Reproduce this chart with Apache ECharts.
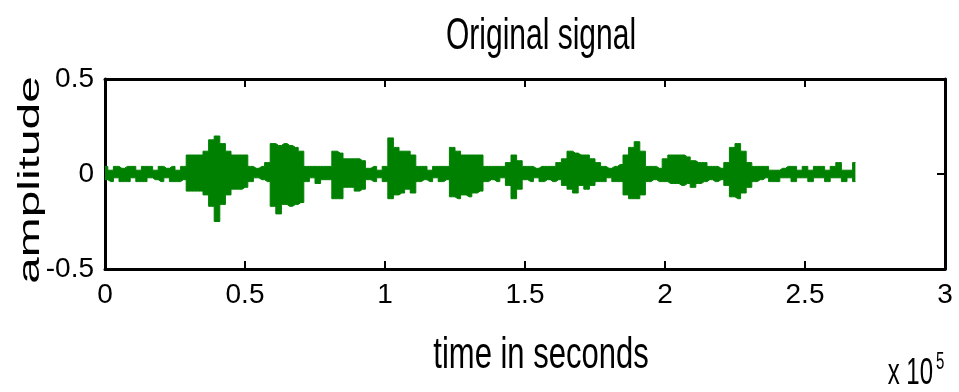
<!DOCTYPE html>
<html>
<head>
<meta charset="utf-8">
<script src="https://cdn.jsdelivr.net/npm/echarts@6/dist/echarts.min.js"></script>
<style>
  html, body { margin: 0; padding: 0; background: #fff; }
  #chart { width: 959px; height: 392px; }
</style>
</head>
<body>
<div id="chart"></div>
<script>
// time axis in units of 1e5 samples, one envelope reading every 0.02
const timeStep = 0.02
// upper envelope of the signal
const upperEnv = [
  0.04, 0.02, 0.04, 0.03, 0.04, 0.04, 0.02, 0.04, 0.04, 0.02, 0.04, 0.03, 0.04, 0.02, 0.04,
  0.10, 0.10, 0.10, 0.12, 0.18, 0.20, 0.16, 0.12, 0.10, 0.10, 0.10, 0.04, 0.03, 0.04, 0.06,
  0.16, 0.15, 0.16, 0.15, 0.14, 0.12, 0.04, 0.04, 0.04, 0.04, 0.04, 0.12, 0.11, 0.08, 0.08,
  0.08, 0.07, 0.03, 0.04, 0.02, 0.04, 0.19, 0.14, 0.12, 0.12, 0.10, 0.04, 0.04, 0.02, 0.04,
  0.04, 0.04, 0.14, 0.12, 0.10, 0.10, 0.10, 0.10, 0.04, 0.04, 0.04, 0.04, 0.06, 0.10, 0.07,
  0.04, 0.04, 0.03, 0.04, 0.04, 0.04, 0.06, 0.08, 0.12, 0.11, 0.10, 0.10, 0.08, 0.06, 0.04,
  0.03, 0.04, 0.05, 0.10, 0.14, 0.17, 0.12, 0.04, 0.04, 0.03, 0.08, 0.10, 0.10, 0.10, 0.09,
  0.07, 0.06, 0.06, 0.04, 0.04, 0.03, 0.06, 0.14, 0.16, 0.12, 0.06,
  0.04, 0.04, 0.04, 0.02, 0.02, 0.03, 0.04, 0.04, 0.02, 0.04, 0.02, 0.04, 0.04, 0.02, 0.04,
  0.06, 0.02, 0.02, 0.06
]
// lower envelope
const lowerEnv = [
  -0.03, -0.04, -0.02, -0.04, -0.04, -0.02, -0.04, -0.04, -0.02, -0.03, -0.04, -0.02, -0.04, -0.04, -0.03,
  -0.09, -0.09, -0.09, -0.11, -0.17, -0.25, -0.16, -0.11, -0.08, -0.08, -0.07, -0.04, -0.02, -0.03, -0.04,
  -0.17, -0.21, -0.16, -0.17, -0.16, -0.15, -0.04, -0.02, -0.05, -0.03, -0.03, -0.13, -0.13, -0.07, -0.07,
  -0.09, -0.08, -0.03, -0.04, -0.02, -0.04, -0.13, -0.11, -0.10, -0.08, -0.10, -0.04, -0.03, -0.04, -0.02,
  -0.04, -0.03, -0.12, -0.13, -0.11, -0.12, -0.10, -0.09, -0.04, -0.03, -0.04, -0.02, -0.06, -0.13, -0.08,
  -0.03, -0.04, -0.02, -0.04, -0.03, -0.04, -0.03, -0.06, -0.08, -0.10, -0.06, -0.08, -0.06, -0.04, -0.04,
  -0.02, -0.04, -0.04, -0.11, -0.13, -0.13, -0.11, -0.04, -0.03, -0.04, -0.04, -0.05, -0.05, -0.06, -0.05,
  -0.07, -0.05, -0.04, -0.03, -0.04, -0.03, -0.06, -0.12, -0.13, -0.10, -0.07,
  -0.04, -0.03, -0.02, -0.04, -0.04, -0.02, -0.02, -0.04, -0.02, -0.02, -0.04, -0.02, -0.02, -0.04, -0.02,
  -0.02, -0.04, -0.02, -0.04
]
const xTicks = [0, 0.5, 1, 1.5, 2, 2.5, 3]
const yTicks = [-0.5, 0, 0.5]

const sans = '"Liberation Sans", Arial, sans-serif'
const green = '#008000'

let chartDom = document.getElementById('chart')
let myChart = echarts.init(chartDom)

let upperData = upperEnv.map((v, i) => [+(i * timeStep).toFixed(2), v])
let lowerData = lowerEnv.map((v, i) => [+(i * timeStep).toFixed(2), v])

// MATLAB style box: ticks pointing inward on all four sides
let boxAxis = function (ticks, position, showLabel) {
  return {
    type: 'value',
    position: position,
    min: ticks[0],
    max: ticks[ticks.length - 1],
    interval: ticks[1] - ticks[0],
    axisLine: { show: true, onZero: false, lineStyle: { color: '#000', width: 3 } },
    axisTick: { show: true, inside: true, length: 8, lineStyle: { color: '#000', width: 2 } },
    splitLine: { show: false },
    axisLabel: showLabel
      ? { show: true, margin: 12, fontFamily: sans, fontSize: 28, color: '#000' }
      : { show: false }
  }
}

let leftAxis = boxAxis(yTicks, 'left', true)
leftAxis.axisLabel.margin = 11
leftAxis.axisLabel.padding = [0, 0, 8, 0]

// the old MATLAB text is tall and narrow, so the labels are stretched with scale
let stretchedText = function (text, x, y, size, sx, sy, rotation) {
  return {
    type: 'text',
    x: x,
    y: y,
    scaleX: sx,
    scaleY: sy,
    rotation: rotation || 0,
    style: { text: text, fontFamily: sans, fontSize: size, fill: '#000', align: 'center', verticalAlign: 'middle' }
  }
}

let option = {
  animation: false,
  backgroundColor: '#fff',
  grid: { left: 105, right: 14, top: 79, bottom: 123, containLabel: false, outerBoundsMode: 'none' },
  xAxis: [boxAxis(xTicks, 'bottom', true), boxAxis(xTicks, 'top', false)],
  yAxis: [leftAxis, boxAxis(yTicks, 'right', false)],
  graphic: [
    stretchedText('Original signal', 541, 37, 30, 1, 1.5),
    stretchedText('time in seconds', 541, 356, 31, 1, 1.45),
    stretchedText('amplitude', 31, 180, 29, 1.65, 1, Math.PI / 2),
    {
      type: 'text',
      x: 933,
      y: 374,
      scaleY: 1.5,
      style: { text: 'x 10', fontFamily: sans, fontSize: 24, fill: '#000', align: 'right', verticalAlign: 'middle' }
    },
    {
      type: 'text',
      x: 936,
      y: 362,
      scaleY: 1.6,
      style: { text: '5', fontFamily: sans, fontSize: 15, fill: '#000', align: 'left', verticalAlign: 'middle' }
    }
  ],
  series: [
    {
      name: 'upper',
      type: 'line',
      step: 'middle',
      symbol: 'none',
      data: upperData,
      lineStyle: { color: green, width: 1 },
      areaStyle: { color: green, opacity: 1 },
      z: 1
    },
    {
      name: 'lower',
      type: 'line',
      step: 'middle',
      symbol: 'none',
      data: lowerData,
      lineStyle: { color: green, width: 1 },
      areaStyle: { color: green, opacity: 1 },
      z: 1
    }
  ]
}

option && myChart.setOption(option)
</script>
</body>
</html>
